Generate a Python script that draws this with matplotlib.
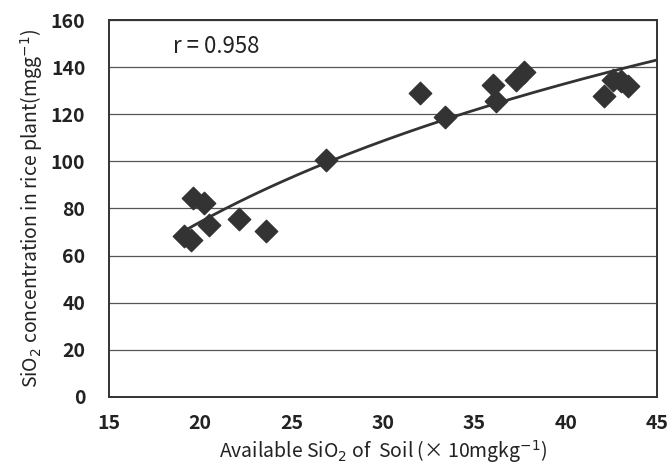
import numpy as np
import matplotlib.pyplot as plt

plt.rcParams['font.family'] = ['Noto Sans CJK JP', 'DejaVu Sans']

soil_sio2 = [19.1, 19.5, 19.6, 20.2, 20.5, 22.1, 23.6, 26.9, 32.0, 33.4,
             36.0, 36.2, 37.3, 37.7, 42.1, 42.6, 43.0, 43.4]
plant_sio2 = [68.5, 66.8, 84.5, 82.3, 73.0, 75.5, 70.5, 100.6, 129.0, 118.8,
              132.4, 125.6, 134.5, 138.0, 127.8, 134.5, 134.0, 132.0]
r_text = 'r = 0.958'

x = np.array(soil_sio2)
y = np.array(plant_sio2)
# log trend line fitted to the points
a, b = np.polyfit(np.log(x), y, 1)
xf = np.linspace(x.min(), 45, 200)
yf = a * np.log(xf) + b

fig, ax = plt.subplots(figsize=(6.72, 4.68), dpi=100)
ax.plot(xf, yf, color='#333333', lw=2, zorder=2)
ax.scatter(x, y, marker='D', s=130, color='#333333', zorder=3)

ax.set_xlim(15, 45)
ax.set_ylim(0, 160)
ax.set_xticks(range(15, 46, 5))
ax.set_yticks(range(0, 161, 20))
ax.yaxis.grid(True, color='#555555', lw=0.9)
ax.set_axisbelow(True)
ax.tick_params(length=0, labelsize=14)
ax.tick_params(axis='y', pad=17)
ax.tick_params(axis='x', pad=12)
for lab in ax.get_xticklabels() + ax.get_yticklabels():
    lab.set_fontweight('bold')
    lab.set_color('#222222')
for s in ax.spines.values():
    s.set_color('#333333')
    s.set_linewidth(1.4)

ax.text(18.5, 149, r_text, fontsize=16, va='center', color='#222222')
ax.set_xlabel('Available SiO$_2$ of  Soil (\u00d7 10mgkg$^{-1}$)', fontsize=14,
              color='#222222', labelpad=4)
ax.set_ylabel('SiO$_2$ concentration in rice plant(mgg$^{-1}$)', fontsize=14,
              color='#222222', labelpad=4)

plt.subplots_adjust(left=0.162, right=0.978, top=0.957, bottom=0.152)
plt.savefig('out.png')
plt.close()
